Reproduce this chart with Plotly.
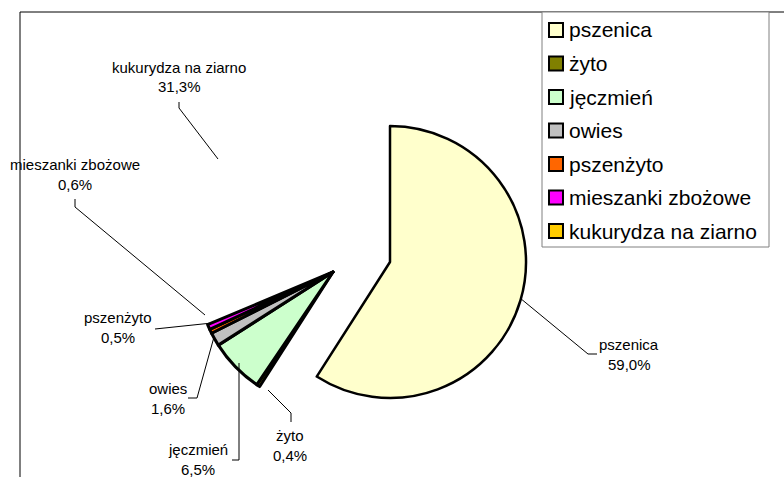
import plotly.graph_objects as go

W, H = 784, 477

labels = ['pszenica', 'żyto', 'jęczmień', 'owies', 'pszenżyto',
          'mieszanki zbożowe', 'kukurydza na ziarno']
values = [59.0, 0.4, 6.5, 1.6, 0.5, 0.6, 31.3]
colors = ['#FFFFCC', '#808000', '#CCFFCC', '#C0C0C0', '#FF6600',
          '#FF00FF', '#FFCC00']

# label centre (px) and leader line path (px) for each slice
label_pos = {
    'pszenica': (629, 354),
    'żyto': (290, 445),
    'jęczmień': (198, 459),
    'owies': (168, 398),
    'pszenżyto': (118, 327),
    'mieszanki zbożowe': (75, 174),
    'kukurydza na ziarno': (179, 77),
}
leaders = [
    [(520, 298), (588, 354), (597, 354)],
    [(268, 390), (291, 413), (291, 422)],
    [(232, 460), (239, 460), (239, 363)],
    [(188, 398), (197, 398), (214, 337)],
    [(155, 329), (212, 323)],
    [(75, 199), (75, 207), (205, 315)],
    [(179, 102), (179, 108), (218, 159)],
]


def px(x):
    return x / W


def py(y):
    return 1 - y / H


def domain(cx, cy, r):
    return dict(x=[px(cx - r), px(cx + r)], y=[py(cy + r), py(cy - r)])


def pie(visible, cx, cy, lw_on):
    fill = [c if l in visible else 'rgba(0,0,0,0)' for l, c in zip(labels, colors)]
    lw = [lw_on if l in visible else 0 for l in labels]
    return go.Pie(
        labels=labels, values=values, sort=False,
        direction='clockwise', rotation=0,
        marker=dict(colors=fill, line=dict(color='black', width=lw)),
        textinfo='none', hoverinfo='label+percent',
        domain=domain(cx, cy, 136), showlegend=False,
    )


fig = go.Figure()
fig.add_trace(pie(['pszenica'], 390, 262, 2.5))
fig.add_trace(pie(['żyto', 'jęczmień', 'owies', 'pszenżyto', 'mieszanki zbożowe'],
                  333, 272, 3))

shapes = []
annotations = []

# chart frame
shapes.append(dict(type='rect', xref='paper', yref='paper',
                   x0=px(20), x1=1.05, y0=-0.05, y1=py(12),
                   line=dict(color='black', width=1)))

# leader lines + labels
for lab, val, pts in zip(labels, values, leaders):
    path = 'M ' + ' L '.join(f'{px(x)},{py(y)}' for x, y in pts)
    shapes.append(dict(type='path', xref='paper', yref='paper', path=path,
                       line=dict(color='black', width=1)))
    x, y = label_pos[lab]
    pct = f'{val:.1f}'.replace('.', ',') + '%'
    for txt, dy in ((lab, -10), (pct, 10)):
        annotations.append(dict(x=px(x), y=py(y + dy), xref='paper', yref='paper',
                                text=txt, showarrow=False, xanchor='center',
                                yanchor='middle',
                                font=dict(size=15, color='black',
                                          family='Liberation Sans, Arial')))

# legend box
shapes.append(dict(type='rect', xref='paper', yref='paper',
                   x0=px(542), x1=px(769), y0=py(247), y1=py(12),
                   line=dict(color='#808080', width=1), fillcolor='white'))
for i, (lab, c) in enumerate(zip(labels, colors)):
    yc = 30 + 33.5 * i
    shapes.append(dict(type='rect', xref='paper', yref='paper',
                       x0=px(549), x1=px(563), y0=py(yc + 7), y1=py(yc - 7),
                       line=dict(color='black', width=2), fillcolor=c))
    annotations.append(dict(x=px(567), y=py(yc), xref='paper', yref='paper',
                            text=lab, showarrow=False, xanchor='left',
                            yanchor='middle',
                            font=dict(size=21, color='black',
                                      family='Liberation Sans, Arial')))

fig.update_layout(
    width=W, height=H, autosize=False,
    margin=dict(l=0, r=0, t=0, b=0),
    paper_bgcolor='white', plot_bgcolor='white',
    shapes=shapes, annotations=annotations,
)

fig.write_html("out.html", config={'displayModeBar': False},
               post_script="document.body.style.margin='0';"
                           "document.body.style.overflow='hidden';")
